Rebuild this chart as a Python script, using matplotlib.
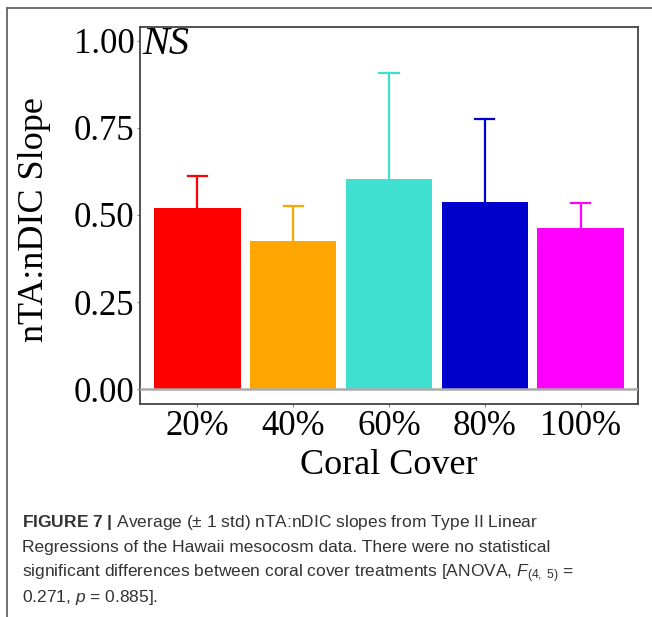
import numpy as np
import matplotlib.pyplot as plt
from matplotlib.lines import Line2D

plt.rcParams['mathtext.fontset'] = 'custom'
plt.rcParams['mathtext.rm'] = 'Liberation Sans'
plt.rcParams['mathtext.it'] = 'Liberation Sans:italic'
plt.rcParams['mathtext.bf'] = 'Liberation Sans:bold'

# --- данные ---
cover = ['20%', '40%', '60%', '80%', '100%']
slope_mean = [0.520, 0.426, 0.603, 0.536, 0.463]
slope_std = [0.092, 0.100, 0.304, 0.241, 0.071]
bar_colors = ['#ff0000', '#ffa500', '#40e0d0', '#0000cd', '#ff00ff']

W, H = 652, 617
fig = plt.figure(figsize=(W / 100, H / 100), dpi=100)
ax = fig.add_axes([140 / W, 1 - 404 / H, (638 - 140) / W, (404 - 27) / H])

x = np.arange(len(cover))
ax.bar(x, slope_mean, width=0.9, color=bar_colors, zorder=2)
for xi, m, s, c in zip(x, slope_mean, slope_std, bar_colors):
    ax.plot([xi, xi], [m, m + s], color=c, lw=1.6, zorder=2)
    ax.plot([xi - 0.1, xi + 0.1], [m + s, m + s], color=c, lw=1.6, zorder=2)
ax.axhline(0, color='#aaaaaa', lw=1.8, zorder=3)

ax.set_xlim(-0.6, 4.6)
ax.set_ylim(-0.043, 1.04)
ax.set_xticks(x)
ax.set_xticklabels(cover)
ax.set_yticks([0, 0.25, 0.5, 0.75, 1.0])
ax.set_yticklabels(['0.00', '0.25', '0.50', '0.75', '1.00'])
for sp in ax.spines.values():
    sp.set_color('#444444')
    sp.set_linewidth(1.3)
ax.tick_params(length=2, width=0.8, color='#888888', pad=2,
               labelsize=25, labelcolor='black')
for lab in ax.get_xticklabels() + ax.get_yticklabels():
    lab.set_family('Liberation Serif')

ax.text(-0.58, 0.99, 'NS', family='Liberation Serif', style='italic',
        fontsize=29, ha='left', va='center')

fig.text(35 / W, 1 - 220 / H, 'nTA:nDIC Slope', family='Liberation Serif',
         fontsize=26, rotation=90, ha='center', va='center')
fig.text(389 / W, 1 - 465 / H, 'Coral Cover', family='Liberation Serif',
         fontsize=26, ha='center', va='center')

# рамка страницы
fig.add_artist(Line2D([7 / W, 7 / W], [0, 1 - 8 / H], color='#666666', lw=1.3,
                      transform=fig.transFigure))
fig.add_artist(Line2D([7 / W, 1], [1 - 8 / H, 1 - 8 / H], color='#666666', lw=1.3,
                      transform=fig.transFigure))

caption = [
    r'$\mathbf{FIGURE\ 7\ |}$ Average ($\pm$ 1 std) nTA:nDIC slopes from Type II Linear',
    'Regressions of the Hawaii mesocosm data. There were no statistical',
    r'significant differences between coral cover treatments [ANOVA, $F_{(4,\ 5)}$ =',
    r'0.271, $p$ = 0.885].',
]
for i, line in enumerate(caption):
    fig.text(22 / W, 1 - (527 + 25 * i) / H, line, family='Liberation Sans',
             fontsize=12.5, color='#333333', ha='left', va='baseline')

fig.savefig('out.png', dpi=100)
